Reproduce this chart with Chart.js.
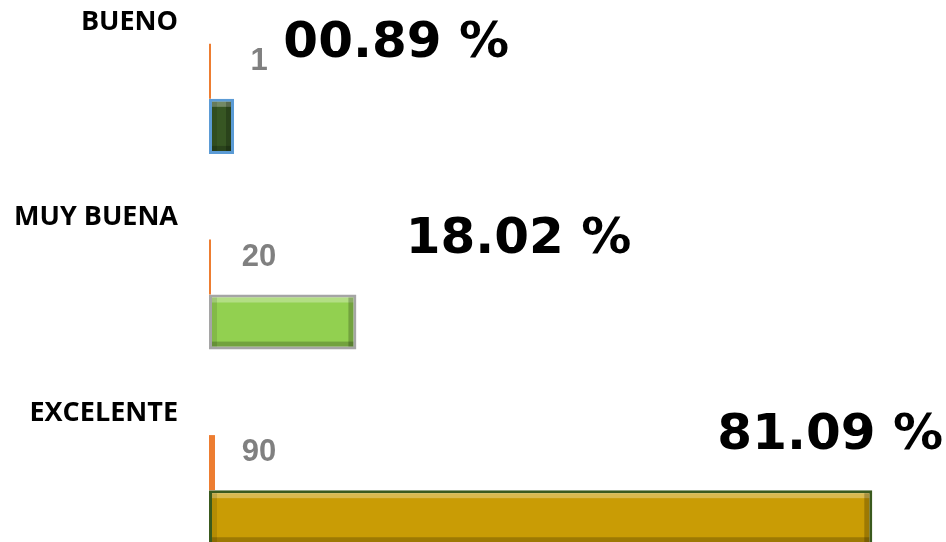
<!DOCTYPE html>
<html>
<head>
<meta charset="utf-8">
<script src="https://cdn.jsdelivr.net/npm/chart.js@4"></script>
<style>
	html, body { margin: 0; padding: 0; background: #fff; overflow: hidden; }
	#wrap { width: 946px; height: 590px; position: relative; }
</style>
</head>
<body>
<div id="wrap"><canvas id="chart"></canvas></div>
<script>
const categories = ["BUENO", "MUY BUENA", "EXCELENTE"];
const counts = [1, 20, 90];
const shares = [0.0089, 0.1802, 0.8109];
const pctLabels = ["00.89 %", "18.02 %", "81.09 %"];

const barColors = ["#375623", "#92d050", "#c99c05"];
const barBorders = ["#5b9bd5", "#a5a5a5", "#3a5a1e"];

const labelsPlugin = {
	id: "valueLabels",
	afterDatasetsDraw(chart) {
		const { ctx, chartArea } = chart;
		const shareMeta = chart.getDatasetMeta(0);
		const countMeta = chart.getDatasetMeta(1);
		ctx.save();
		ctx.textBaseline = "middle";

		countMeta.data.forEach((bar, i) => {
			const { x, y, base, height } = bar.getProps(["x", "y", "base", "height"], true);
			const top = y - height / 2;
			const w = x - base;
			// bevel shading
			ctx.fillStyle = "rgba(255,255,255,0.3)";
			ctx.fillRect(base + 3, top + 3, w - 6, 5);
			ctx.fillStyle = "rgba(0,0,0,0.22)";
			ctx.fillRect(base + 3, top + height - 8, w - 6, 5);
			ctx.fillRect(x - 8, top + 3, 5, height - 6);
			ctx.fillStyle = "rgba(0,0,0,0.1)";
			ctx.fillRect(base + 3, top + 3, 5, height - 6);

			const cy = shareMeta.data[i].y;

			ctx.fillStyle = "#808080";
			ctx.font = "bold 31px 'Liberation Sans', Arial, sans-serif";
			ctx.textAlign = "center";
			ctx.fillText(String(counts[i]), base + 50, cy - 10);

			ctx.fillStyle = "#000";
			ctx.font = "bold 50px 'DejaVu Sans', Verdana, sans-serif";
			ctx.textAlign = "right";
			ctx.fillText(pctLabels[i], Math.min(x + 275, chartArea.right - 3), cy - 27);
		});
		ctx.restore();
	},
};

new Chart(document.getElementById("chart").getContext("2d"), {
	type: "bar",
	data: {
		labels: categories,
		datasets: [
			{
				label: "Porcentaje",
				data: shares,
				backgroundColor: "#ed7d31",
				borderWidth: 0,
				minBarLength: 2,
				barPercentage: 1,
				categoryPercentage: 0.563,
			},
			{
				label: "Cantidad",
				data: counts,
				backgroundColor: barColors,
				borderColor: barBorders,
				borderWidth: 3,
				borderSkipped: false,
				minBarLength: 25,
				barPercentage: 1,
				categoryPercentage: 0.563,
			},
		],
	},
	options: {
		indexAxis: "y",
		animation: false,
		responsive: true,
		maintainAspectRatio: false,
		layout: { padding: { top: 1, bottom: 2, left: 0, right: 0 } },
		scales: {
			x: {
				display: false,
				min: 0,
				max: 100,
			},
			y: {
				grid: { display: false, drawTicks: false },
				border: { display: false },
				ticks: {
					color: "#000",
					padding: 31,
					labelOffset: -77,
					font: { family: "'Open Sans', sans-serif", size: 27, weight: "bold" },
				},
				afterFit(scale) {
					scale.width = 209;
					scale.paddingTop = 0;
					scale.paddingBottom = 0;
				},
			},
		},
		plugins: {
			legend: { display: false },
			tooltip: { enabled: false },
		},
	},
	plugins: [labelsPlugin],
});
</script>
</body>
</html>
